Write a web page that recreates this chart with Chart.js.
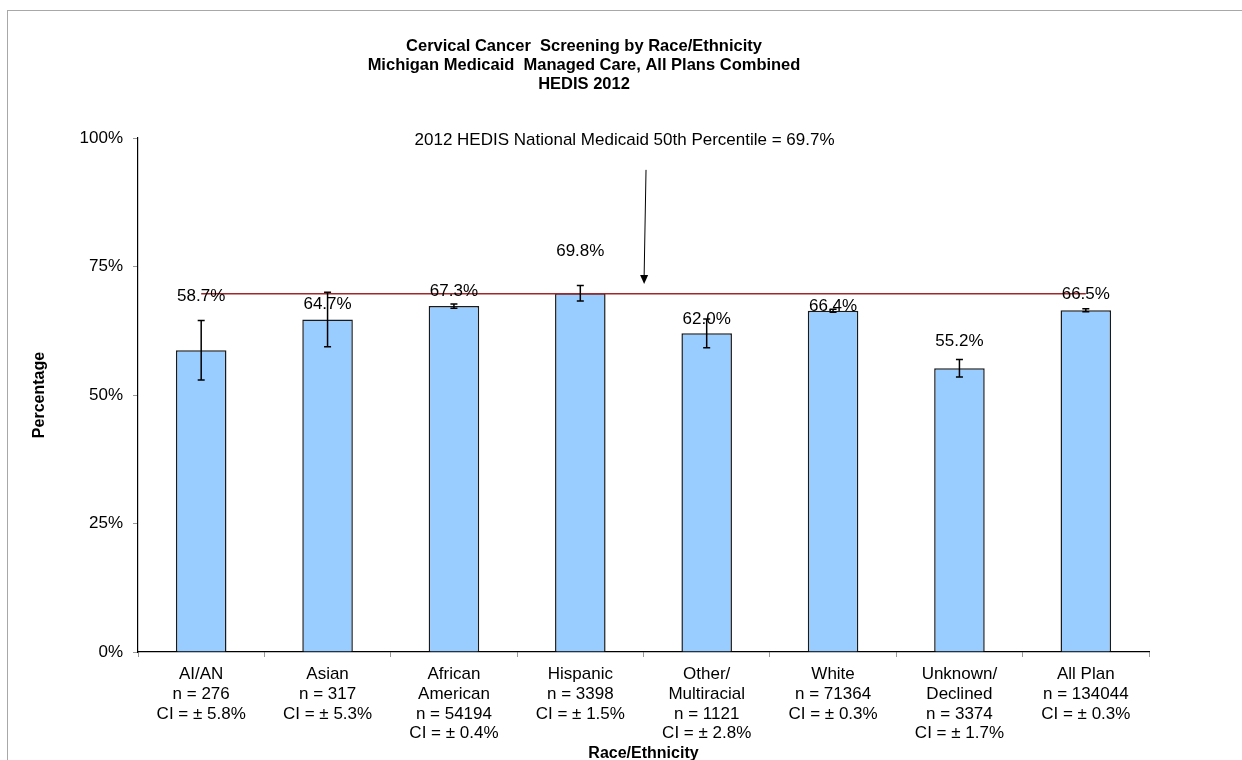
<!DOCTYPE html>
<html>
<head>
<meta charset="utf-8">
<script src="https://cdn.jsdelivr.net/npm/chart.js@4.4.0/dist/chart.umd.min.js"></script>
<style>
html, body { margin: 0; padding: 0; background: #fff; }
#wrap { width: 1242px; height: 760px; }
</style>
</head>
<body>
<div id="wrap"><canvas id="chart"></canvas></div>
<script>
const groups = [['AI/AN'], ['Asian'], ['African', 'American'], ['Hispanic'], ['Other/', 'Multiracial'], ['White'], ['Unknown/', 'Declined'], ['All Plan']]
const counts = [276, 317, 54194, 3398, 1121, 71364, 3374, 134044]
const rates = [58.7, 64.7, 67.3, 69.8, 62.0, 66.4, 55.2, 66.5]
const ci = [5.8, 5.3, 0.4, 1.5, 2.8, 0.3, 1.7, 0.3]
const benchmark = 69.7
const yTicks = [0, 25, 50, 75, 100]
const titleLines = ['Cervical Cancer  Screening by Race/Ethnicity', 'Michigan Medicaid  Managed Care, All Plans Combined', 'HEDIS 2012']
const benchmarkNote = '2012 HEDIS National Medicaid 50th Percentile = 69.7%'
// value labels were placed by hand in the original, heights in %
const labelAt = [69.2, 67.7, 70.2, 77.9, 64.8, 67.2, 60.4, 69.5]

const FONT = "'Liberation Sans', Arial, sans-serif"

const labels = groups.map((g, i) => [...g, 'n = ' + counts[i], 'CI = \u00b1 ' + ci[i].toFixed(1) + '%'])

const extras = {
    id: 'extras',
    beforeDraw(chart) {
        const ctx = chart.ctx
        ctx.save()
        ctx.strokeStyle = '#a8a8a8'
        ctx.lineWidth = 1
        ctx.strokeRect(7.5, 10.5, 1300, 800)
        ctx.fillStyle = '#000'
        ctx.font = 'bold 16.5px ' + FONT
        ctx.textAlign = 'center'
        ctx.textBaseline = 'middle'
        titleLines.forEach((t, i) => ctx.fillText(t, 584, 46 + i * 19))
        ctx.restore()
    },
    afterDatasetsDraw(chart) {
        const ctx = chart.ctx
        const x = chart.scales.x, y = chart.scales.y
        const bars = chart.getDatasetMeta(1).data
        ctx.save()
        // error bars
        ctx.strokeStyle = '#000'
        ctx.lineWidth = 1.5
        bars.forEach((b, i) => {
            const top = y.getPixelForValue(rates[i] + ci[i])
            const bot = y.getPixelForValue(rates[i] - ci[i])
            ctx.beginPath()
            ctx.moveTo(b.x, top); ctx.lineTo(b.x, bot)
            ctx.moveTo(b.x - 3.5, top); ctx.lineTo(b.x + 3.5, top)
            ctx.moveTo(b.x - 3.5, bot); ctx.lineTo(b.x + 3.5, bot)
            ctx.stroke()
        })
        // value labels
        ctx.fillStyle = '#000'
        ctx.font = '17px ' + FONT
        ctx.textAlign = 'center'
        ctx.textBaseline = 'middle'
        bars.forEach((b, i) => ctx.fillText(rates[i].toFixed(1) + '%', b.x, y.getPixelForValue(labelAt[i])))
        // benchmark note + arrow
        ctx.fillText(benchmarkNote, x.getPixelForValue(3.35), y.getPixelForValue(99.6))
        const ax1 = x.getPixelForValue(3.52), ay1 = y.getPixelForValue(93.8)
        const ax2 = x.getPixelForValue(3.505), ay2 = y.getPixelForValue(71.6)
        ctx.lineWidth = 1
        ctx.beginPath()
        ctx.moveTo(ax1, ay1); ctx.lineTo(ax2, ay2 - 8)
        ctx.stroke()
        ctx.beginPath()
        ctx.moveTo(ax2, ay2); ctx.lineTo(ax2 - 4, ay2 - 9); ctx.lineTo(ax2 + 4, ay2 - 9)
        ctx.closePath()
        ctx.fill()
        ctx.restore()
    }
}

new Chart(document.getElementById('chart'), {
    type: 'bar',
    data: {
        labels: labels,
        datasets: [{
            type: 'line',
            data: labels.map(() => benchmark),
            borderColor: '#a3262a',
            borderWidth: 1.6,
            pointRadius: 0,
            order: 0
        }, {
            data: rates,
            backgroundColor: '#99ccff',
            borderColor: '#1a1a1a',
            borderWidth: 1.5,
            barPercentage: 0.4,
            categoryPercentage: 1,
            order: 1
        }]
    },
    options: {
        responsive: true,
        maintainAspectRatio: false,
        animation: false,
        layout: { padding: { top: 138, right: 93, bottom: 0, left: 0 } },
        plugins: {
            legend: { display: false },
            tooltip: { enabled: false }
        },
        scales: {
            x: {
                grid: { drawOnChartArea: false, tickLength: 5, tickColor: '#999', offset: true },
                border: { color: '#000', width: 1.2 },
                ticks: { color: '#000', padding: 8, font: { family: FONT, size: 17, lineHeight: 1.15 }, maxRotation: 0, autoSkip: false },
                title: { display: true, text: 'Race/Ethnicity', color: '#000', font: { family: FONT, size: 16, weight: 'bold', lineHeight: 0.75 }, padding: 0 },
                afterFit: s => { s.height = 108 }
            },
            y: {
                min: 0,
                max: 100,
                afterBuildTicks: s => { s.ticks = yTicks.map(v => ({ value: v })) },
                grid: { drawOnChartArea: false, tickLength: 5, tickColor: '#999' },
                border: { color: '#000', width: 1.2 },
                ticks: { color: '#000', padding: 10, font: { family: FONT, size: 17 }, callback: v => v + '%' },
                title: { display: true, text: 'Percentage', color: '#000', font: { family: FONT, size: 16, weight: 'bold', lineHeight: 1.2 }, padding: { top: 30, bottom: 0 } },
                afterFit: s => { s.width = 138 }
            }
        }
    },
    plugins: [extras]
})
</script>
</body>
</html>
